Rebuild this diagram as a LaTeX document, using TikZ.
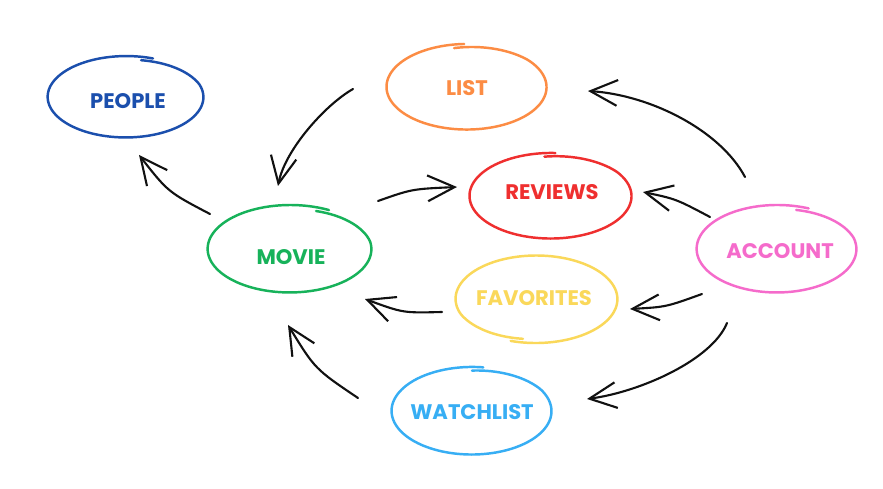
\documentclass[tikz,border=0pt]{standalone}
\usepackage{fontspec}
\setmainfont{Poppins}
\usetikzlibrary{arrows.meta}

\definecolor{ink}{HTML}{111111}
\definecolor{cPeople}{HTML}{1B4FAD}
\definecolor{cList}{HTML}{FC8C44}
\definecolor{cReviews}{HTML}{EF2F2F}
\definecolor{cMovie}{HTML}{17B25A}
\definecolor{cAccount}{HTML}{F56BCB}
\definecolor{cFavorites}{HTML}{FAD85A}
\definecolor{cWatchlist}{HTML}{37AEF4}

% hand-drawn ring around a label: #1 node, #2/#3 offset of the ring centre,
% #4/#5 radii, #6 angle where the stroke starts, #7 colour
\newcommand\sketchring[7]{%
  \begin{scope}[shift={(#1.center)}, shift={(#2,#3)}]
    \draw[ring, draw=#7] plot[domain=0:368, samples=150, variable=\u]
      ({#4*(1-0.06*max(0,1-\u/60)+0.025*\u/368)*cos(#6+\u)},
       {#5*(1-0.06*max(0,1-\u/60)+0.025*\u/368)*sin(#6+\u)});
  \end{scope}}

\begin{document}
\begin{tikzpicture}[x=0.03cm, y=-0.03cm,
  lbl/.style={inner sep=0pt, font=\bfseries\fontsize{18}{21}\selectfont},
  ring/.style={line width=2.1pt, line cap=round, line join=round},
  arr/.style={draw=ink, line width=1.8pt, line cap=round, line join=round,
    -{Straight Barb[length=23pt, width=22pt]}}]

\fill[white] (0,0) rectangle (883,489);
\useasboundingbox (0,0) rectangle (883,489);

% labels
\node[lbl, text=cPeople]    (people)    at (128,101) {PEOPLE};
\node[lbl, text=cList]      (list)      at (467,88)  {LIST};
\node[lbl, text=cReviews]   (reviews)   at (552,192) {REVIEWS};
\node[lbl, text=cMovie]     (movie)     at (291,257) {MOVIE};
\node[lbl, text=cAccount]   (account)   at (780,251) {ACCOUNT};
\node[lbl, text=cFavorites] (favorites) at (534,298) {FAVORITES};
\node[lbl, text=cWatchlist] (watchlist) at (472,412) {WATCHLIST};

% rings
\sketchring{people}{-2}{-4}{77}{40}{-78}{cPeople}
\sketchring{list}{0}{-1}{79}{42}{-100}{cList}
\sketchring{reviews}{-1}{4}{80}{42}{-95}{cReviews}
\sketchring{movie}{-1}{-8}{81}{43}{-70}{cMovie}
\sketchring{account}{-3}{-2}{79}{43}{-75}{cAccount}
\sketchring{favorites}{2}{1}{80}{43}{100}{cFavorites}
\sketchring{watchlist}{0}{-1}{79}{43}{-90}{cWatchlist}

% connectors
\draw[arr] ([shift={(-81,-43)}]movie.center) .. controls (168,192) ..
  ([shift={(11,54)}]people.center);
\draw[arr] ([shift={(-114,1)}]list.center) .. controls (325,105) and (285,150) ..
  ([shift={(-13,-71)}]movie.center);
\draw[arr] ([shift={(87,-56)}]movie.center) .. controls (412,189) ..
  ([shift={(-95,-5)}]reviews.center);
\draw[arr] ([shift={(-35,-74)}]account.center) .. controls (720,130) and (650,95) ..
  ([shift={(121,3)}]list.center);
\draw[arr] ([shift={(-70,-34)}]account.center) .. controls (676,199) ..
  ([shift={(91,0)}]reviews.center);
\draw[arr] ([shift={(-78,43)}]account.center) .. controls (666,307) ..
  ([shift={(96,11)}]favorites.center);
\draw[arr] ([shift={(-92,14)}]favorites.center) .. controls (403,313) ..
  ([shift={(74,42)}]movie.center);
\draw[arr] ([shift={(-53,72)}]account.center) .. controls (712,360) and (640,392) ..
  ([shift={(115,-13)}]watchlist.center);
\draw[arr] ([shift={(-114,-14)}]watchlist.center) .. controls (315,369) ..
  ([shift={(-3,68)}]movie.center);

\end{tikzpicture}
\end{document}
